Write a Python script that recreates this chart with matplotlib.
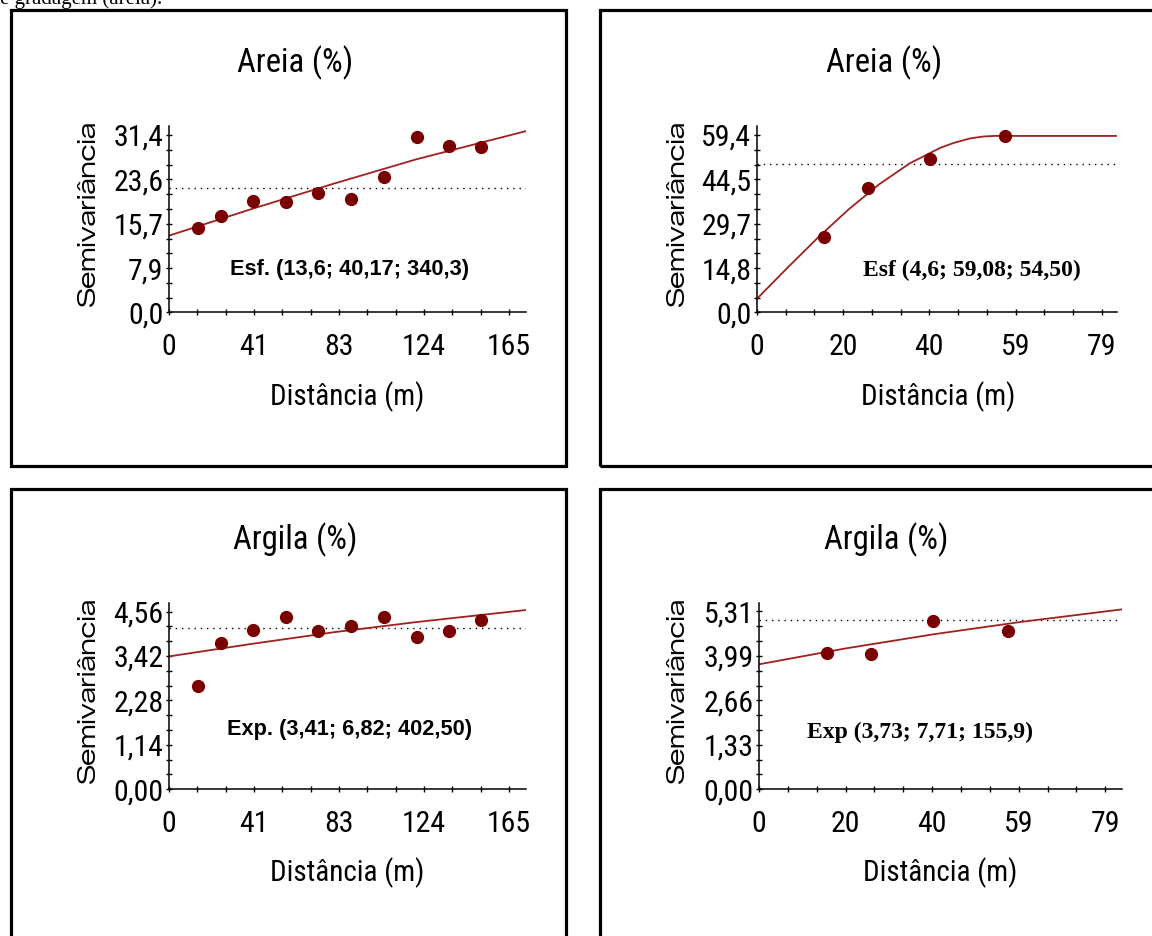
import matplotlib
matplotlib.use("Agg")
import matplotlib.pyplot as plt
from matplotlib.patches import Rectangle
from matplotlib.ticker import FixedLocator, AutoMinorLocator

# lag distances (m)
dist_long = [14.3, 25.0, 40.7, 56.7, 72.4, 88.3, 104.4, 120.4, 136.1, 151.6]
dist_short = [15.4, 25.5, 39.6, 56.9]

# experimental semivariances
areia_long = [14.9, 17.0, 19.8, 19.5, 21.1, 20.0, 23.9, 31.0, 29.5, 29.2]
areia_short = [25.4, 41.8, 51.4, 59.1]
argila_long = [2.65, 3.76, 4.09, 4.43, 4.05, 4.20, 4.43, 3.90, 4.05, 4.35]
argila_short = [4.08, 4.03, 5.03, 4.71]

# fitted model curves
areia_long_mx = [0, 40, 80, 120, 173.3]
areia_long_my = [13.6, 18.3, 22.8, 27.1, 32.1]
areia_short_mx = [0, 7, 14, 21, 28, 35, 42, 45, 49, 52, 54.5, 82.5]
areia_short_my = [4.6, 15.0, 25.1, 34.5, 42.9, 49.9, 55.1, 56.7, 58.3, 58.9, 59.08, 59.08]
argila_long_mx = [0, 40, 80, 120, 173.3]
argila_long_my = [3.41, 3.73, 4.03, 4.29, 4.60]
argila_short_mx = [0, 20, 40, 60, 82.8]
argila_short_my = [3.73, 4.21, 4.63, 5.00, 5.37]

# sample variance (dotted line)
sill_lines = [22.0, 49.8, 4.15, 5.05]

titles = ["Areia (%)", "Areia (%)", "Argila (%)", "Argila (%)"]
models = ["Esf. (13,6; 40,17; 340,3)", "Esf (4,6; 59,08; 54,50)",
          "Exp. (3,41; 6,82; 402,50)", "Exp (3,73; 7,71; 155,9)"]

xt_long = [0, 41.25, 82.5, 123.75, 165]
xl_long = ["0", "41", "83", "124", "165"]
xt_short = [0, 19.75, 39.5, 59.25, 79]
xl_short = ["0", "20", "40", "59", "79"]
yt = [[0, 7.85, 15.7, 23.55, 31.4],
      [0, 14.85, 29.7, 44.55, 59.4],
      [0, 1.14, 2.28, 3.42, 4.56],
      [0, 1.3275, 2.655, 3.9825, 5.31]]
yl = [["0,0", "7,9", "15,7", "23,6", "31,4"],
      ["0,0", "14,8", "29,7", "44,5", "59,4"],
      ["0,00", "1,14", "2,28", "3,42", "4,56"],
      ["0,00", "1,33", "2,66", "3,99", "5,31"]]

W, H = 1152, 936
fig = plt.figure(figsize=(W / 100, H / 100), dpi=100)

def fx(px):
    return px / W

def fy(py):
    return 1 - py / H

NARROW = ["Roboto Condensed", "Liberation Sans", "DejaVu Sans"]
WIDE = ["Zalando Sans Expanded", "DejaVu Sans"]
RED_LINE = "#a02020"
RED_PT = "#7a0000"

# panel layout in pixels: axes left, top, right, bottom; limits
panels = [
    dict(ax=(169, 126, 526, 312.5), xlim=173.3, ylim=33.0,
         title=(295, 63), xlab=(347, 397), ylab=(88, 213), note=(350, 269)),
    dict(ax=(757, 126, 1117, 312.5), xlim=82.5, ylim=62.4,
         title=(884, 63), xlab=(938, 397), ylab=(677, 213), note=(972, 270)),
    dict(ax=(169, 603, 526, 789.3), xlim=173.3, ylim=4.78,
         title=(295, 540), xlab=(347, 873), ylab=(88, 690), note=(350, 729)),
    dict(ax=(759, 603, 1122, 789.3), xlim=82.8, ylim=5.56,
         title=(886, 540), xlab=(940, 873), ylab=(677, 690), note=(920, 732)),
]

series = [
    (dist_long, areia_long, areia_long_mx, areia_long_my, xt_long, xl_long),
    (dist_short, areia_short, areia_short_mx, areia_short_my, xt_short, xl_short),
    (dist_long, argila_long, argila_long_mx, argila_long_my, xt_long, xl_long),
    (dist_short, argila_short, argila_short_mx, argila_short_my, xt_short, xl_short),
]

# panel frames
frames = [(10.5, 10.5, 565.5, 465.5), (599.5, 10.5, 1170, 465.5),
          (10.5, 488.5, 565.5, 960), (599.5, 488.5, 1170, 960)]
for l, t, r, b in frames:
    fig.patches.append(Rectangle((fx(l), fy(b)), fx(r) - fx(l), fy(t) - fy(b),
                                 transform=fig.transFigure, fill=False,
                                 edgecolor="black", linewidth=2.3, zorder=0))

for i, (p, s) in enumerate(zip(panels, series)):
    l, t, r, b = p["ax"]
    ax = fig.add_axes([fx(l), fy(b), fx(r) - fx(l), fy(t) - fy(b)])
    ax.patch.set_alpha(0)
    xs, ys, mx, my, xt, xl = s
    ax.plot(mx, my, color=RED_LINE, lw=1.3, zorder=2)
    ax.axhline(sill_lines[i], color="black", lw=1.0, ls=(0, (1, 3.5)), zorder=1)
    ax.plot(xs, ys, "o", color=RED_PT, ms=8.5, zorder=3, clip_on=False)
    ax.set_xlim(0, p["xlim"])
    ax.set_ylim(0, p["ylim"])
    for sp in ["top", "right"]:
        ax.spines[sp].set_visible(False)
    for sp in ["left", "bottom"]:
        ax.spines[sp].set_linewidth(1.1)
    ax.xaxis.set_major_locator(FixedLocator(xt))
    ax.set_xticklabels(xl)
    ax.yaxis.set_major_locator(FixedLocator(yt[i]))
    ax.set_yticklabels(yl[i])
    ax.xaxis.set_minor_locator(AutoMinorLocator(3))
    ax.yaxis.set_minor_locator(AutoMinorLocator(3))
    ax.tick_params(which="both", direction="inout", length=4, width=1.0)
    ax.tick_params(axis="x", which="major", pad=13, labelsize=21.5)
    ax.tick_params(axis="y", which="major", pad=2, labelsize=21.5)
    for lab in ax.get_xticklabels() + ax.get_yticklabels():
        lab.set_family(NARROW)

    fig.text(fx(p["title"][0]), fy(p["title"][1]), titles[i], family=NARROW,
             fontsize=23.5, ha="center", va="center")
    fig.text(fx(p["xlab"][0]), fy(p["xlab"][1]), "Distância (m)", family=NARROW,
             fontsize=21, ha="center", va="center")
    fig.text(fx(p["ylab"][0]), fy(p["ylab"][1]), "Semivariância", family=WIDE,
             fontsize=17.5, ha="center", va="center", rotation=90)
    if i % 2 == 0:
        fig.text(fx(p["note"][0]), fy(p["note"][1]), models[i],
                 family=["Liberation Sans", "DejaVu Sans"], fontweight="bold",
                 fontsize=15.7, ha="center", va="center")
    else:
        fig.text(fx(p["note"][0]), fy(p["note"][1]), models[i],
                 family=["Liberation Serif", "DejaVu Serif"], fontweight="bold",
                 fontsize=17, ha="center", va="center")

# caption line cut off at the top of the page
fig.text(0, fy(4), "e gradagem (areia).", family=["Liberation Serif"],
         fontsize=15, ha="left", va="baseline")

fig.savefig("out.png", dpi=100)
